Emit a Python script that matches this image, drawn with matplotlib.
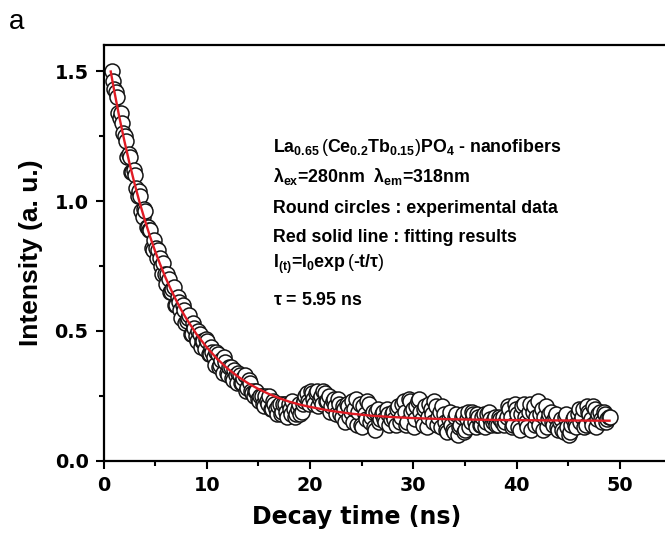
import numpy as np
import matplotlib
matplotlib.use("Agg")
import matplotlib.pyplot as plt

plt.rcParams['font.family'] = ['Liberation Sans', 'DejaVu Sans']
plt.rcParams['mathtext.fontset'] = 'custom'
plt.rcParams['mathtext.rm'] = 'Liberation Sans'
plt.rcParams['mathtext.bf'] = 'Liberation Sans:bold'
plt.rcParams['mathtext.it'] = 'Liberation Sans:bold'
plt.rcParams['mathtext.sf'] = 'Liberation Sans:bold'
plt.rcParams['mathtext.default'] = 'bf'

# ---- data ----
decay_time_a = np.round(np.arange(0.8, 49.1, 0.25), 3)
intensity_a = [
    1.50, 1.43, 1.40, 1.32, 1.30, 1.25, 1.17, 1.17, 1.11, 1.10,
    1.02, 1.02, 0.94, 0.96, 0.90, 0.89, 0.81, 0.82, 0.81, 0.75,
    0.76, 0.68, 0.70, 0.65, 0.67, 0.60, 0.61, 0.55, 0.58, 0.54,
    0.56, 0.49, 0.51, 0.46, 0.49, 0.46, 0.43, 0.46, 0.41, 0.42,
    0.37, 0.41, 0.37, 0.34, 0.38, 0.33, 0.36, 0.31, 0.33, 0.34,
    0.30, 0.32, 0.27, 0.31, 0.27, 0.25, 0.27, 0.23, 0.25, 0.21,
    0.23, 0.25, 0.20, 0.22, 0.18, 0.22, 0.19, 0.22, 0.17, 0.20,
    0.23, 0.17, 0.20, 0.18, 0.22, 0.25, 0.23, 0.27, 0.24, 0.26,
    0.21, 0.25, 0.27, 0.23, 0.25, 0.21, 0.24, 0.18, 0.22, 0.17,
    0.20, 0.22, 0.17, 0.23, 0.20, 0.14, 0.22, 0.13, 0.18, 0.23,
    0.15, 0.19, 0.12, 0.20, 0.16, 0.19, 0.15, 0.18, 0.16, 0.19,
    0.14, 0.21, 0.17, 0.23, 0.14, 0.24, 0.19, 0.13, 0.21, 0.24,
    0.16, 0.20, 0.13, 0.22, 0.18, 0.23, 0.14, 0.19, 0.21, 0.15,
    0.11, 0.19, 0.12, 0.17, 0.10, 0.14, 0.18, 0.12, 0.19, 0.15,
    0.18, 0.13, 0.17, 0.14, 0.18, 0.15, 0.19, 0.14, 0.16, 0.14,
    0.17, 0.15, 0.14, 0.17, 0.20, 0.13, 0.22, 0.18, 0.12, 0.21,
    0.17, 0.13, 0.22, 0.19, 0.14, 0.23, 0.18, 0.12, 0.21, 0.16,
    0.19, 0.14, 0.18, 0.12, 0.16, 0.11, 0.18, 0.10, 0.14, 0.17,
    0.13, 0.20, 0.17, 0.13, 0.21, 0.18, 0.14, 0.20, 0.16, 0.19,
    0.15, 0.18, 0.16, 0.17,
]
decay_time_b = np.round(np.arange(0.925, 49.0, 0.25), 3)
intensity_b = [
    1.46, 1.42, 1.34, 1.34, 1.26, 1.23, 1.18, 1.11, 1.12, 1.05,
    1.04, 0.96, 0.97, 0.90, 0.89, 0.82, 0.85, 0.78, 0.78, 0.72,
    0.72, 0.72, 0.65, 0.66, 0.60, 0.63, 0.58, 0.60, 0.53, 0.55,
    0.49, 0.53, 0.48, 0.50, 0.44, 0.46, 0.47, 0.41, 0.44, 0.40,
    0.42, 0.36, 0.39, 0.40, 0.34, 0.36, 0.32, 0.35, 0.30, 0.33,
    0.30, 0.33, 0.28, 0.30, 0.26, 0.27, 0.24, 0.25, 0.22, 0.25,
    0.22, 0.20, 0.23, 0.20, 0.21, 0.18, 0.22, 0.19, 0.22, 0.18,
    0.20, 0.18, 0.22, 0.19, 0.23, 0.26, 0.22, 0.26, 0.22, 0.27,
    0.24, 0.22, 0.26, 0.23, 0.19, 0.23, 0.21, 0.24, 0.18, 0.21,
    0.15, 0.21, 0.19, 0.15, 0.24, 0.19, 0.14, 0.21, 0.16, 0.22,
    0.17, 0.13, 0.19, 0.15, 0.18, 0.16, 0.20, 0.14, 0.18, 0.16,
    0.20, 0.15, 0.22, 0.19, 0.15, 0.23, 0.20, 0.16, 0.23, 0.19,
    0.14, 0.21, 0.17, 0.20, 0.15, 0.21, 0.17, 0.13, 0.18, 0.12,
    0.16, 0.14, 0.11, 0.18, 0.13, 0.17, 0.11, 0.16, 0.13, 0.19,
    0.15, 0.18, 0.14, 0.17, 0.13, 0.18, 0.16, 0.15, 0.17, 0.14,
    0.16, 0.17, 0.15, 0.21, 0.17, 0.14, 0.20, 0.13, 0.18, 0.22,
    0.15, 0.19, 0.12, 0.21, 0.17, 0.14, 0.20, 0.17, 0.13, 0.18,
    0.15, 0.17, 0.13, 0.15, 0.12, 0.17, 0.13, 0.11, 0.16, 0.14,
    0.18, 0.15, 0.20, 0.14, 0.19, 0.16, 0.21, 0.13, 0.18, 0.16,
    0.19, 0.15, 0.17,
]
fit_time = [0.7, 1.0, 1.5, 2.0, 2.5, 3.0, 3.5, 4.0, 4.5, 5.0, 5.5, 6.0, 6.5,
            7.0, 7.5, 8.0, 9.0, 10.0, 11.0, 12.0, 13.0, 14.0, 15.0, 16.0,
            17.0, 18.0, 19.0, 20.0, 22.0, 24.0, 26.0, 28.0, 30.0, 33.0,
            36.0, 40.0, 44.0, 49.0]
fit_intensity = [1.498, 1.432, 1.329, 1.235, 1.148, 1.068, 0.994, 0.927, 0.864,
                 0.807, 0.755, 0.706, 0.662, 0.621, 0.583, 0.549, 0.488, 0.437,
                 0.393, 0.356, 0.325, 0.299, 0.277, 0.258, 0.242, 0.228, 0.217,
                 0.208, 0.193, 0.182, 0.174, 0.169, 0.165, 0.161, 0.159, 0.157,
                 0.156, 0.155]

x_ticks = [0, 10, 20, 30, 40, 50]
y_ticks = [0.0, 0.5, 1.0, 1.5]

na = min(len(decay_time_a), len(intensity_a))
nb = min(len(decay_time_b), len(intensity_b))
t_all = np.concatenate([decay_time_a[:na], decay_time_b[:nb]])
i_all = np.concatenate([np.array(intensity_a[:na]), np.array(intensity_b[:nb])])
order = np.argsort(t_all)
t_all, i_all = t_all[order], i_all[order]

W, H = 665, 537
fig = plt.figure(figsize=(W / 100, H / 100), dpi=100)
ax = fig.add_axes([103.5 / W, (H - 461) / H, 568 / W, 416 / H])

ax.plot(t_all, i_all, linestyle='none', marker='o',
        markersize=10.8, markerfacecolor='white', markeredgecolor='#141414',
        markeredgewidth=1.1, zorder=2)
ax.plot(fit_time, fit_intensity, color='#e01b24', lw=1.7, zorder=3)

ax.set_xlim(0, 55)
ax.set_ylim(0, 1.6)
ax.set_xticks(x_ticks)
ax.set_xticklabels([str(v) for v in x_ticks])
ax.set_yticks(y_ticks)
ax.set_yticklabels([f"{v:.1f}" for v in y_ticks])
ax.set_xticks(np.arange(5, 55, 10), minor=True)
ax.set_yticks([0.25, 0.75, 1.25], minor=True)
ax.tick_params(which='major', direction='out', length=5.8, width=1.5, pad=5)
ax.tick_params(which='minor', direction='out', length=3.6, width=1.5)
for lbl in ax.get_xticklabels() + ax.get_yticklabels():
    lbl.set_fontweight('bold')
    lbl.set_fontfamily('DejaVu Sans')
    lbl.set_fontsize(13.8)
for s in ax.spines.values():
    s.set_linewidth(1.6)

fig.text(357 / W, 1 - 517 / H, "Decay time (ns)", ha='center', va='center',
         fontsize=17, fontweight='bold', family='DejaVu Sans')
fig.text(31 / W, 1 - 253 / H, "Intensity (a. u.)", ha='center', va='center',
         rotation=90, fontsize=19, fontweight='bold')
fig.text(9 / W, 1 - 29 / H, "a", ha='left', va='baseline', fontsize=20)

lines = [
    (151.7, r"La$_{0.65}$$\mathrm{\,(}$Ce$_{0.2}$Tb$_{0.15}$$\mathrm{)}$PO$_{4}$ - nanofibers"),
    (181.7, r"$\lambda_{ex}$=280nm  $\lambda_{em}$=318nm"),
    (213.3, "Round circles : experimental data"),
    (241.7, "Red solid line : fitting results"),
    (268.3, r"I$_{(t)}$=I$_{0}$exp$\mathrm{\,(}$-t/$\tau$$\mathrm{)}$"),
    (305.0, r"$\tau$ = 5.95 ns"),
]
for yb, s in lines:
    fig.text(273 / W, 1 - yb / H, s, ha='left', va='baseline', fontsize=12.8,
             fontweight='bold')

fig.savefig("out.png", dpi=100)
